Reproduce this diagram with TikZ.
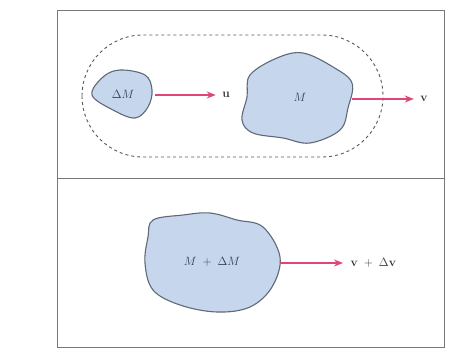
\documentclass[tikz,border=0pt]{standalone}
\usetikzlibrary{arrows.meta}
\definecolor{blobfill}{RGB}{198,214,236}
\definecolor{blobline}{RGB}{95,105,120}
\definecolor{arrowcol}{RGB}{222,70,115}
\definecolor{labcol}{RGB}{50,60,90}
\definecolor{framecol}{RGB}{120,120,120}
\tikzset{
  blob/.style={fill=blobfill,draw=blobline,line width=1.1pt},
  vel/.style={draw=arrowcol,line width=2pt,-{Stealth[length=9pt,width=7pt]}},
  masslab/.style={text=labcol,font=\large},
  vellab/.style={text=black!80,font=\large},
  frame/.style={draw=framecol,line width=0.9pt}
}
\begin{document}
\begin{tikzpicture}[x=1pt,y=-1pt]
\useasboundingbox (0,0) rectangle (467,354);
\fill[white] (0,0) rectangle (467,354);
% frame
\draw[frame] (57,10) rectangle (444,347);
\draw[frame] (57,178) -- (444,178);
% control volume
\draw[dashed,draw=black!65,line width=0.9pt,rounded corners=61pt] (82,35) rectangle (383,157);
% small blob
\draw[blob] plot[smooth cycle,tension=0.6] coordinates {(92,95) (103,77) (120,70) (145,75) (152,90) (148,107) (135,118) (113,110)};
\node[masslab] (dm) at (123,94) {$\Delta M$};
% big blob
\draw[blob] plot[smooth cycle,tension=0.6] coordinates {(250,75) (277,58) (303,53) (333,67) (352,83) (348,108) (340,130) (310,143) (283,138) (253,133) (242,120) (247,97)};
\node[masslab] (m) at (300,97) {$M$};
% bottom blob
\draw[blob] plot[smooth cycle,tension=0.6] coordinates {(153,220) (183,215) (210,213) (237,220) (263,227) (280,257) (272,287) (250,307) (217,312) (180,305) (153,290) (145,263) (148,237)};
\node[masslab] (mdm) at (212,262) {$M \;+\; \Delta M$};
% velocity labels
\node[vellab] (u) at (226,95) {$\mathbf{u}$};
\node[vellab] (v) at (424,99) {$\mathbf{v}$};
\node[vellab,anchor=west] (vdv) at (347,263) {$\mathbf{v} \;+\; \Delta\mathbf{v}$};
\coordinate (us) at (155,95);
\coordinate (vs) at (352,99);
\coordinate (ws) at (280,263);
\draw[vel] (us) -- ([xshift=-3pt]u.west);
\draw[vel] (vs) -- ([xshift=-3pt]v.west);
\draw[vel] (ws) -- ([xshift=-4pt]vdv.west);
\end{tikzpicture}
\end{document}
